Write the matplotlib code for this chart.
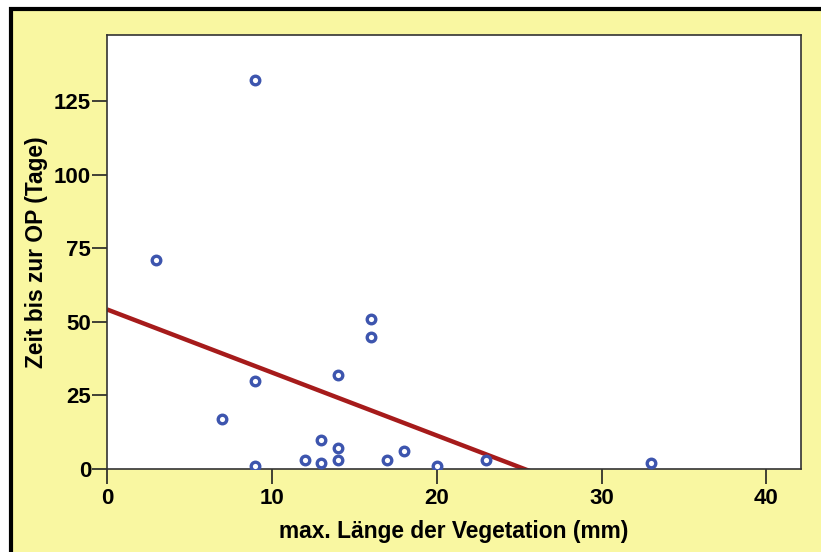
import numpy as np
import matplotlib
matplotlib.use("Agg")
import matplotlib.pyplot as plt
from matplotlib.patches import Rectangle

plt.rcParams["font.family"] = ["Liberation Sans", "DejaVu Sans"]
plt.rcParams["font.weight"] = "bold"

# max. Länge der Vegetation (mm) vs. Zeit bis zur OP (Tage)
laenge = [9, 3, 9, 7, 9, 12, 13, 13, 14, 14, 16, 16, 14, 17, 18, 20, 23, 33]
zeit = [132, 71, 30, 17, 1, 3, 2, 10, 7, 3, 51, 45, 32, 3, 6, 1, 3, 2]

x_ticks = [0, 10, 20, 30, 40]
y_ticks = [0, 25, 50, 75, 100, 125]

gelb = "#F9F7A1"
blau = "#3D55AE"
rot = "#A61B1B"

fig = plt.figure(figsize=(8.21, 5.52), dpi=100, facecolor="white")
# gelber Hintergrund mit schwarzem Rahmen
fig.patches.append(Rectangle((10.5 / 821, -0.1), 1.2, 1.1 - 8.5 / 552,
                             transform=fig.transFigure, facecolor=gelb,
                             edgecolor="black", linewidth=3, zorder=-10))

ax = fig.add_axes([107 / 821, 1 - 469 / 552, (801 - 107) / 821, (469 - 35) / 552])
ax.set_facecolor("white")

# lineare Regression
m, b = np.polyfit(laenge, zeit, 1)
xs = np.array([0, 42.1])
ax.plot(xs, m * xs + b, color=rot, linewidth=3.2, solid_capstyle="butt", zorder=2)

ax.scatter(laenge, zeit, s=38, facecolors="white", edgecolors=blau,
           linewidths=2.4, zorder=3)

ax.set_xlim(0, 42.1)
ax.set_ylim(0, 147.4)
ax.set_xticks(x_ticks)
ax.set_yticks(y_ticks)
ax.tick_params(direction="out", length=10.5, width=1.2, labelsize=16,
               color="#222222")
ax.tick_params(axis="x", pad=3)
ax.tick_params(axis="y", pad=1)
for lab in ax.get_xticklabels() + ax.get_yticklabels():
    lab.set_fontweight("bold")
for s in ax.spines.values():
    s.set_color("#333333")
    s.set_linewidth(1.2)

ax.set_xlabel("max. Länge der Vegetation (mm)", fontsize=16.4,
              fontweight="bold", labelpad=8)
ax.set_ylabel("Zeit bis zur OP (Tage)", fontsize=16.4,
              fontweight="bold", labelpad=4)

fig.savefig("out.png", dpi=100, facecolor=fig.get_facecolor())
